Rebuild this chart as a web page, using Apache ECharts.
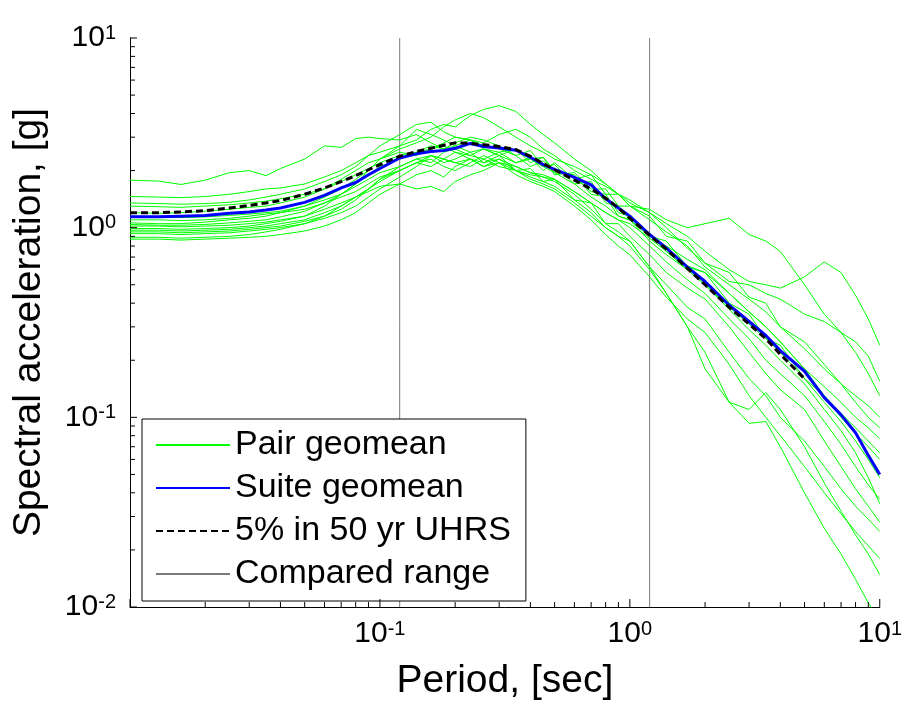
<!DOCTYPE html>
<html>
<head>
<meta charset="utf-8">
<script src="https://cdn.jsdelivr.net/npm/echarts@6/dist/echarts.min.js"></script>
<style>
html,body{margin:0;padding:0;background:#fff;}
#main{width:905px;height:706px;}
</style>
</head>
<body>
<div id="main"></div>
<script>
// Period grid [sec]
const periods = [0.01,0.013,0.016,0.02,0.025,0.03,0.035,0.04,0.05,0.06,0.07,0.08,0.09,0.1,0.12,0.14,0.16,0.18,0.2,0.23,0.26,0.3,0.35,0.4,0.45,0.5,0.6,0.7,0.8,0.9,1.0,1.2,1.4,1.7,2.0,2.5,3.0,3.5,4.0,5.0,6.0,7.0,8.0,9.0,10];

// Pair geomean spectra [g]
const pair1  = [1.78,1.76,1.69,1.78,1.95,2.0,1.88,2.05,2.3,2.7,2.65,2.95,3.0,2.95,2.9,3.1,2.8,2.6,2.7,2.9,2.6,2.4,2.6,2.2,2.35,2.0,1.85,1.55,1.5,1.2,1.15,0.9,0.8,0.68,0.6,0.45,0.36,0.3,0.25,0.18,0.145,0.12,0.1,0.088,0.077];
const pair2  = [1.46,1.45,1.44,1.46,1.5,1.55,1.6,1.62,1.7,1.85,2.0,2.2,2.4,2.5,2.7,2.9,3.3,3.5,3.4,3.9,4.2,4.4,4.1,3.5,3.1,2.8,2.3,2.0,1.7,1.5,1.4,1.2,1.0,0.78,0.65,0.52,0.5,0.45,0.42,0.35,0.32,0.28,0.25,0.21,0.155];
const pair3  = [1.35,1.34,1.33,1.34,1.36,1.4,1.45,1.5,1.6,1.75,1.9,2.1,2.4,2.7,3.1,3.5,3.6,3.2,3.0,2.9,2.7,2.6,2.4,2.55,2.1,2.15,1.7,1.75,1.35,1.3,1.1,0.92,0.75,0.6,0.5,0.37,0.29,0.24,0.2,0.15,0.11,0.085,0.065,0.048,0.035];
const pair4  = [1.30,1.29,1.28,1.3,1.32,1.35,1.38,1.42,1.5,1.6,1.75,1.9,2.05,2.2,2.4,2.5,2.6,2.8,3.0,2.9,2.8,3.1,3.3,3.0,2.6,2.4,2.0,1.8,1.65,1.5,1.35,1.2,1.05,0.9,0.75,0.6,0.52,0.5,0.48,0.55,0.66,0.58,0.44,0.33,0.24];
const pair5  = [1.2,1.19,1.2,1.22,1.25,1.28,1.3,1.35,1.45,1.6,1.8,2.0,2.2,2.3,2.5,2.4,2.6,2.7,2.5,2.4,2.6,2.5,2.2,2.35,2.0,2.2,1.8,1.9,1.5,1.5,1.3,1.25,1.1,1.0,1.05,1.12,0.92,0.85,0.75,0.5,0.35,0.28,0.22,0.17,0.13];
const pair6  = [1.15,1.14,1.13,1.14,1.16,1.18,1.2,1.22,1.3,1.4,1.5,1.65,1.8,1.95,2.1,2.3,2.4,2.3,2.2,2.3,2.1,2.3,2.0,1.8,1.7,1.6,1.35,1.15,1.0,0.9,0.8,0.6,0.45,0.3,0.18,0.12,0.093,0.095,0.07,0.04,0.026,0.019,0.014,0.0105,0.0085];
const pair7  = [1.1,1.1,1.09,1.1,1.12,1.15,1.18,1.2,1.25,1.35,1.45,1.55,1.7,1.85,2.0,2.2,2.1,2.3,2.5,2.3,2.2,2.3,2.1,1.95,1.85,1.75,1.5,1.25,1.05,0.95,0.85,0.62,0.45,0.3,0.22,0.12,0.11,0.135,0.11,0.07,0.045,0.032,0.024,0.019,0.0148];
const pair8  = [1.06,1.05,1.05,1.07,1.1,1.12,1.15,1.2,1.3,1.45,1.6,1.8,2.0,2.3,2.6,2.8,3.0,3.4,3.7,4.0,3.8,3.4,3.0,2.7,2.5,2.3,2.1,1.9,1.7,1.5,1.3,1.15,0.9,0.85,0.65,0.58,0.43,0.4,0.3,0.25,0.19,0.15,0.12,0.1,0.088];
const pair9  = [1.04,1.03,1.03,1.04,1.06,1.08,1.1,1.14,1.22,1.35,1.5,1.7,1.9,2.1,2.3,2.5,2.7,2.6,2.8,3.0,2.9,2.7,2.4,2.1,2.25,1.95,1.9,1.5,1.45,1.15,1.1,0.85,0.72,0.6,0.5,0.38,0.31,0.26,0.22,0.16,0.12,0.095,0.075,0.06,0.048];
const pair10 = [1.02,1.02,1.01,1.02,1.03,1.05,1.07,1.1,1.15,1.25,1.35,1.45,1.55,1.65,1.7,1.6,1.65,1.55,1.75,1.9,2.0,2.2,2.1,1.95,1.9,1.8,1.55,1.35,1.2,1.1,1.0,0.8,0.66,0.53,0.45,0.33,0.26,0.2,0.17,0.13,0.095,0.072,0.055,0.044,0.037];
const pair11 = [0.99,0.99,0.98,0.99,1.0,1.02,1.05,1.08,1.15,1.3,1.5,1.7,2.0,2.3,2.7,3.3,3.1,2.9,2.7,2.5,2.6,2.4,2.2,2.3,2.1,1.95,1.7,1.45,1.3,1.15,1.1,0.9,0.85,0.62,0.58,0.4,0.35,0.26,0.24,0.16,0.13,0.105,0.088,0.075,0.065];
const pair12 = [0.97,0.97,0.96,0.97,0.98,1.0,1.02,1.05,1.1,1.2,1.3,1.45,1.6,1.8,2.0,2.2,2.4,2.3,2.2,2.1,2.3,2.5,2.6,2.3,2.35,1.9,1.95,1.6,1.6,1.3,1.3,1.1,0.95,0.8,0.62,0.5,0.42,0.36,0.3,0.23,0.18,0.15,0.13,0.115,0.10];
const pair13 = [0.95,0.95,0.94,0.95,0.96,0.98,1.0,1.02,1.08,1.15,1.25,1.4,1.6,1.8,2.1,2.3,2.2,2.5,2.6,2.4,2.3,2.1,2.0,1.9,1.85,1.8,1.55,1.35,1.2,1.1,1.05,0.88,0.75,0.63,0.58,0.45,0.36,0.3,0.25,0.18,0.13,0.1,0.082,0.07,0.06];
const pair14 = [0.93,0.93,0.92,0.93,0.94,0.96,0.98,1.0,1.05,1.12,1.2,1.3,1.45,1.6,1.85,2.1,2.4,2.2,2.3,2.5,2.2,2.4,2.0,2.05,1.75,1.8,1.4,1.35,1.05,1.05,0.9,0.72,0.58,0.48,0.42,0.3,0.22,0.17,0.14,0.11,0.075,0.055,0.042,0.034,0.028];
const pair15 = [0.89,0.89,0.88,0.89,0.9,0.92,0.95,0.98,1.05,1.15,1.3,1.45,1.6,1.75,2.0,2.2,2.3,2.1,2.0,2.2,2.4,2.2,2.0,1.85,1.75,1.65,1.4,1.2,1.0,0.9,0.85,0.62,0.5,0.38,0.33,0.22,0.16,0.13,0.1,0.075,0.055,0.042,0.034,0.029,0.025];
const pair16 = [0.87,0.87,0.86,0.87,0.88,0.89,0.9,0.92,0.96,1.02,1.1,1.2,1.35,1.5,1.7,1.9,2.0,1.85,2.1,2.3,2.1,2.2,1.9,1.75,1.65,1.55,1.3,1.1,0.92,0.8,0.72,0.55,0.43,0.33,0.28,0.19,0.13,0.1,0.08,0.055,0.04,0.031,0.025,0.021,0.018];

// Suite geomean [g]
const suiteGeomean = [1.14,1.14,1.15,1.16,1.19,1.21,1.24,1.27,1.36,1.48,1.62,1.73,1.9,2.05,2.33,2.45,2.52,2.55,2.62,2.78,2.68,2.63,2.56,2.35,2.15,2.03,1.84,1.68,1.42,1.27,1.15,0.92,0.78,0.62,0.52,0.39,0.32,0.27,0.225,0.175,0.127,0.103,0.083,0.063,0.05];

// 5% in 50 yr UHRS (to 5 sec)
const uhrsPeriods = [0.01,0.013,0.016,0.02,0.025,0.03,0.035,0.04,0.05,0.06,0.07,0.08,0.09,0.1,0.12,0.14,0.16,0.18,0.2,0.23,0.26,0.3,0.35,0.4,0.45,0.5,0.6,0.7,0.8,0.9,1.0,1.2,1.4,1.7,2.0,2.5,3.0,3.5,4.0,5.0];
const uhrs = [1.2,1.2,1.21,1.23,1.27,1.31,1.35,1.39,1.5,1.62,1.75,1.88,2.02,2.15,2.38,2.52,2.62,2.72,2.8,2.78,2.74,2.68,2.58,2.38,2.18,2.02,1.78,1.6,1.43,1.27,1.12,0.91,0.77,0.61,0.5,0.38,0.31,0.26,0.215,0.16];

// Compared period range [sec]
const comparedRange = [0.12, 1.2];

// Axis extents and ticks
const axisLimits = [0.01, 10];
const majorTicks = [0.01, 0.1, 1, 10];
const xTickLabels = [0.1, 1, 10];
const yTickLabels = [0.01, 0.1, 1, 10];
const minorTicks = [0.02,0.03,0.04,0.05,0.06,0.07,0.08,0.09,0.2,0.3,0.4,0.5,0.6,0.7,0.8,0.9,2,3,4,5,6,7,8,9];

const pairs = [pair1,pair2,pair3,pair4,pair5,pair6,pair7,pair8,pair9,pair10,pair11,pair12,pair13,pair14,pair15,pair16];

const FONT = '"Liberation Sans", Arial, Helvetica, sans-serif';
const zip = (xs, ys) => xs.map((x, i) => [x, ys[i]]);

const labelFmt = v => '{b|10}{s|' + Math.round(Math.log10(v)) + '}';
const labelRich = {
  b: { fontSize: 30, fontFamily: FONT, color: '#000' },
  s: { fontSize: 20, fontFamily: FONT, color: '#000', verticalAlign: 'top' }
};

// inward tick marks, placed through the axis scales as thin rect symbols
function tickSeries(values, dir, len) {
  return {
    type: 'scatter', silent: true, clip: false, z: 20,
    symbol: 'rect',
    symbolSize: dir === 'x' ? [1, len] : [len, 1],
    symbolOffset: dir === 'x' ? [0, -len / 2] : [len / 2, 0],
    itemStyle: { color: '#000', opacity: 1 },
    data: values.map(v => dir === 'x' ? [v, axisLimits[0]] : [axisLimits[0], v])
  };
}

const series = [];
comparedRange.forEach(p => {
  series.push({
    name: 'Compared range', type: 'line', symbol: 'none', silent: true,
    data: [[p, axisLimits[0]], [p, axisLimits[1]]],
    lineStyle: { color: '#7a7a7a', width: 1 }, itemStyle: { color: '#7a7a7a' },
    z: 1
  });
});
pairs.forEach(arr => {
  series.push({
    name: 'Pair geomean', type: 'line', symbol: 'none', silent: true,
    data: zip(periods, arr),
    lineStyle: { color: '#00ff00', width: 1 }, itemStyle: { color: '#00ff00' },
    z: 2
  });
});
series.push({
  name: 'Suite geomean', type: 'line', symbol: 'none', silent: true,
  data: zip(periods, suiteGeomean),
  lineStyle: { color: '#0000ff', width: 3 }, itemStyle: { color: '#0000ff' },
  z: 3
});
series.push({
  name: '5% in 50 yr UHRS', type: 'line', symbol: 'none', silent: true,
  data: zip(uhrsPeriods, uhrs),
  lineStyle: { color: '#000', width: 3, type: [7, 4] }, itemStyle: { color: '#000' },
  z: 4
});
series.push(tickSeries(majorTicks, 'x', 8));
series.push(tickSeries(minorTicks, 'x', 5));
series.push(tickSeries(majorTicks, 'y', 7));
series.push(tickSeries(minorTicks, 'y', 5));

const axisLineStyle = { show: true, lineStyle: { color: '#000', width: 1 } };

const option = {
  animation: false,
  backgroundColor: '#fff',
  grid: { left: 130, top: 38, right: 24, bottom: 97, containLabel: false },
  legend: {
    orient: 'vertical', left: 142, top: 419,
    data: ['Pair geomean', 'Suite geomean', '5% in 50 yr UHRS', 'Compared range'],
    backgroundColor: '#fff', borderColor: '#000', borderWidth: 1, borderRadius: 0,
    padding: [6, 15, 7, 13],
    itemWidth: 74, itemHeight: 14, itemGap: 3,
    itemStyle: { opacity: 0 },
    textStyle: { fontSize: 34, fontFamily: FONT, color: '#000', lineHeight: 40 },
    selectedMode: false
  },
  xAxis: {
    type: 'log', logBase: 10, min: axisLimits[0], max: axisLimits[1],
    name: 'Period, [sec]', nameLocation: 'middle', nameGap: 55,
    nameTextStyle: { fontSize: 39, fontFamily: FONT, color: '#000' },
    axisLine: axisLineStyle,
    axisTick: { show: false },
    axisLabel: { customValues: xTickLabels, margin: 12, formatter: labelFmt, rich: labelRich },
    splitLine: { show: false }, minorTick: { show: false }
  },
  yAxis: {
    type: 'log', logBase: 10, min: axisLimits[0], max: axisLimits[1],
    name: 'Spectral acceleration, [g]', nameLocation: 'middle', nameGap: 81,
    nameTextStyle: { fontSize: 39, fontFamily: FONT, color: '#000' },
    axisLine: axisLineStyle,
    axisTick: { show: false },
    axisLabel: { customValues: yTickLabels, margin: 14, formatter: labelFmt, rich: labelRich },
    splitLine: { show: false }, minorTick: { show: false }
  },
  series: series
};

const chart = echarts.init(document.getElementById('main'), null, { renderer: 'canvas' });
chart.setOption(option);
</script>
</body>
</html>
